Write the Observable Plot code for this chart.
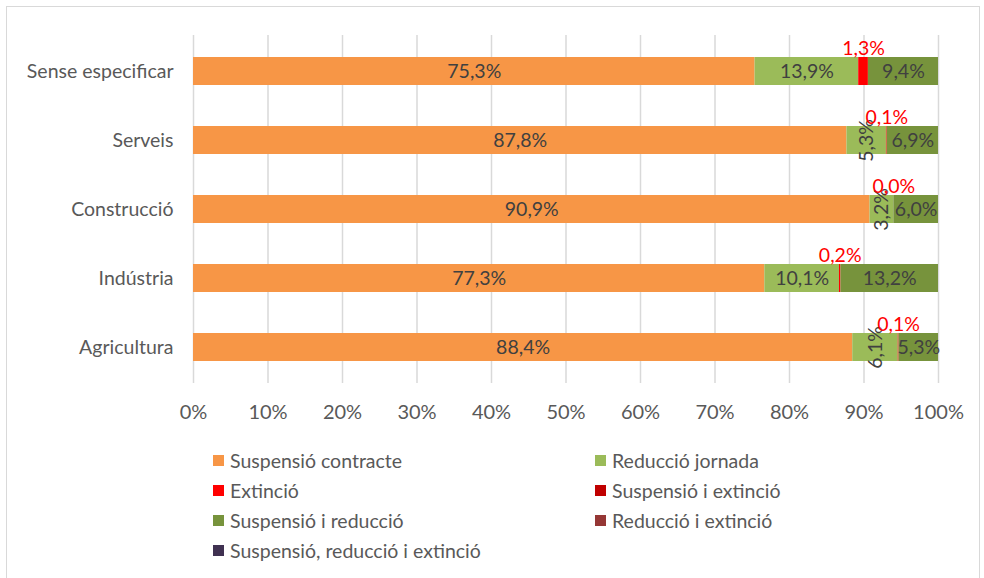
<!DOCTYPE html>
<html>
<head>
<meta charset="utf-8">
<script src="https://cdn.jsdelivr.net/npm/d3@7"></script>
<script src="https://cdn.jsdelivr.net/npm/@observablehq/plot@0.6"></script>
<style>
  body { margin: 0; background: #fff; font-family: Lato, "Noto Sans", sans-serif; }
  #wrap { position: relative; width: 984px; height: 578px; overflow: hidden; }
  #frame { position: absolute; left: 6px; top: 6px; width: 974px; height: 600px; border: 1.5px solid #d9d9d9; box-sizing: border-box; }
  #chart { position: absolute; left: 0; top: 0; }
  #legend { position: absolute; left: 213px; top: 448px; display: grid; grid-template-columns: 382px 300px; row-gap: 6px; font-size: 19.5px; color: #595959; }
  .item { display: flex; align-items: center; height: 24px; white-space: nowrap; }
  .sw { width: 11px; height: 11px; margin-right: 6px; flex: none; }
</style>
</head>
<body>
<div id="wrap">
  <div id="frame"></div>
  <div id="chart"></div>
  <div id="legend"></div>
</div>
<script>
const categories = ["Sense especificar", "Serveis", "Construcció", "Indústria", "Agricultura"];
const seriesNames = ["Suspensió contracte", "Reducció jornada", "Extinció", "Suspensió i extinció", "Suspensió i reducció", "Reducció i extinció", "Suspensió, reducció i extinció"];
const seriesColors = ["#F79646", "#9BBB59", "#FF0000", "#C00000", "#77933C", "#953735", "#403151"];

const suspensioContracte = [75.3, 87.8, 90.9, 77.3, 88.4];
const reduccioJornada    = [13.9, 5.3, 3.2, 10.1, 6.1];
const extincio           = [1.3, 0.1, 0.0, 0.2, 0.1];
const suspensioExtincio  = [0, 0, 0, 0, 0];
const suspensioReduccio  = [9.4, 6.9, 6.0, 13.2, 5.3];
const reduccioExtincio   = [0, 0, 0, 0, 0];
const totesTres          = [0, 0, 0, 0, 0];
const xTicks = [0, 0.1, 0.2, 0.3, 0.4, 0.5, 0.6, 0.7, 0.8, 0.9, 1];

const seriesValues = [suspensioContracte, reduccioJornada, extincio, suspensioExtincio, suspensioReduccio, reduccioExtincio, totesTres];
const labelled = [true, true, true, false, true, false, false];

const data = [];
seriesNames.forEach((s, i) => {
  categories.forEach((c, j) => {
    data.push({series: s, cat: c, value: seriesValues[i][j], labelled: labelled[i]});
  });
});

const fmt = v => d3.format(".1f")(v).replace(".", ",") + "%";
const stackOpts = {x: "value", y: "cat", z: "series", order: seriesNames, offset: "normalize"};

const horizText = d => {
  if (!d.labelled || d.series === "Extinció") return null;
  if (d.series === "Reducció jornada" && d.value < 8) return null;
  return fmt(d.value);
};
const rotText = d => (d.series === "Reducció jornada" && d.value < 8) ? fmt(d.value) : null;
const redText = d => d.series === "Extinció" ? fmt(d.value) : null;

const plot = Plot.plot({
  width: 984,
  height: 430,
  marginLeft: 193,
  marginRight: 46,
  marginTop: 35,
  marginBottom: 47,
  style: {fontFamily: "Lato, 'Noto Sans', sans-serif", background: "transparent"},
  x: {domain: [0, 1], ticks: xTicks, tickFormat: d3.format(".0%"), label: null},
  y: {domain: categories, paddingInner: 0.6, paddingOuter: 0.3, label: null},
  color: {domain: seriesNames, range: seriesColors},
  marks: [
    Plot.gridX(xTicks, {stroke: "#d9d9d9", strokeOpacity: 1, strokeWidth: 1.5}),
    Plot.barX(data, Plot.stackX({...stackOpts, fill: "series"})),
    Plot.text(data, Plot.stackX({...stackOpts, text: horizText, fill: "#404040", fontSize: 19.5})),
    Plot.text(data, Plot.stackX({...stackOpts, text: rotText, fill: "#404040", fontSize: 19.5, rotate: -90})),
    Plot.text(data, Plot.stackX({...stackOpts, text: redText, fill: "#FF0000", fontSize: 19.5, dy: -23})),
    Plot.axisX({ticks: xTicks, tickFormat: d3.format(".0%"), tickSize: 0, tickPadding: 21, fontSize: 20, color: "#595959", label: null}),
    Plot.axisY({tickSize: 0, tickPadding: 20, fontSize: 19.5, color: "#595959", label: null})
  ]
});
document.getElementById("chart").appendChild(plot);

const legend = document.getElementById("legend");
seriesNames.forEach((s, i) => {
  const it = document.createElement("div");
  it.className = "item";
  const sw = document.createElement("span");
  sw.className = "sw";
  sw.style.background = seriesColors[i];
  const t = document.createElement("span");
  t.textContent = s;
  it.appendChild(sw);
  it.appendChild(t);
  legend.appendChild(it);
});
</script>
</body>
</html>
